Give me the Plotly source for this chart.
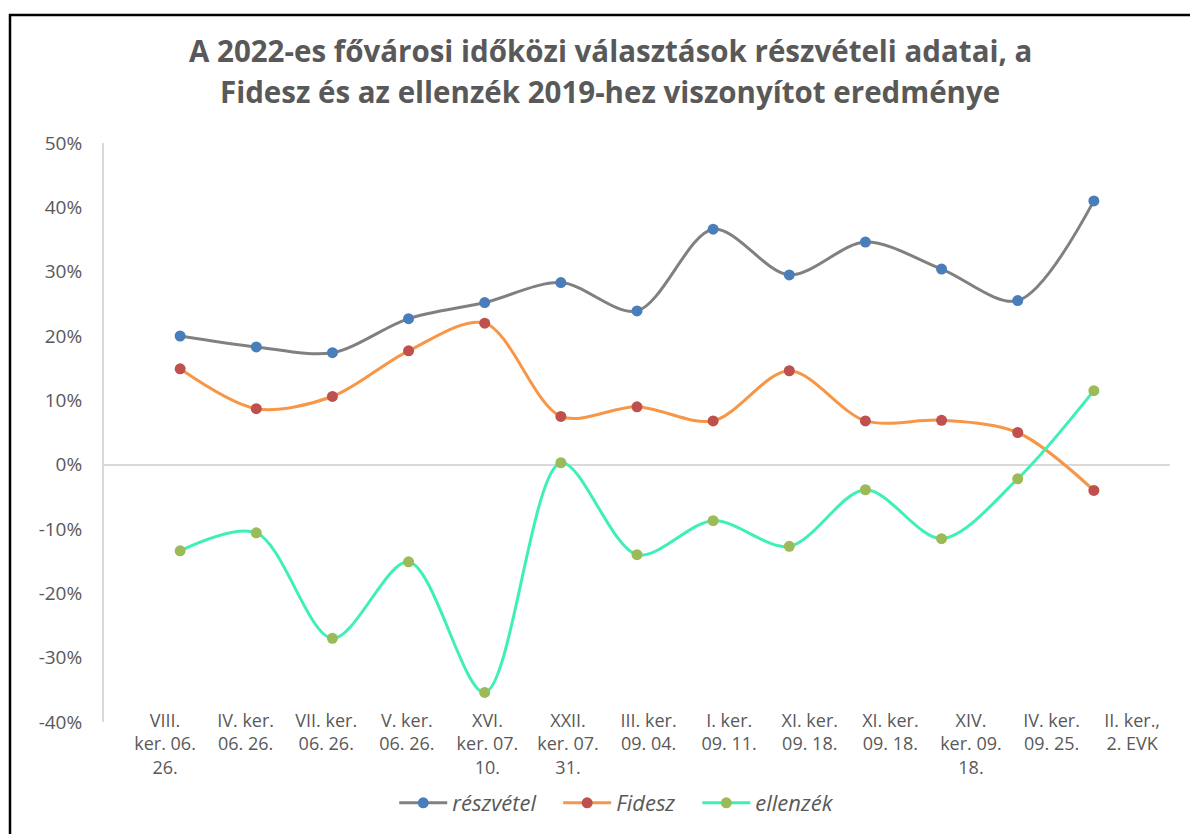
import plotly.graph_objects as go

categories = [
    "VIII.<br>ker. 06.<br>26.",
    "IV. ker.<br>06. 26.",
    "VII. ker.<br>06. 26.",
    "V. ker.<br>06. 26.",
    "XVI.<br>ker. 07.<br>10.",
    "XXII.<br>ker. 07.<br>31.",
    "III. ker.<br>09. 04.",
    "I. ker.<br>09. 11.",
    "XI. ker.<br>09. 18.",
    "XI. ker.<br>09. 18.",
    "XIV.<br>ker. 09.<br>18.",
    "IV. ker.<br>09. 25.",
    "II. ker.,<br>2. EVK",
]

reszvetel = [20.0, 18.3, 17.4, 22.7, 25.2, 28.3, 23.9, 36.6, 29.5, 34.6, 30.4, 25.5, 41.0]
fidesz = [14.9, 8.7, 10.6, 17.7, 22.0, 7.5, 9.0, 6.8, 14.6, 6.8, 6.9, 5.0, -4.0]
ellenzek = [-13.4, -10.6, -27.0, -15.1, -35.4, 0.3, -14.0, -8.7, -12.7, -3.9, -11.5, -2.2, 11.5]

y_ticks = [50, 40, 30, 20, 10, 0, -10, -20, -30, -40]
y_tick_text = ["50%", "40%", "30%", "20%", "10%", "0%", "-10%", "-20%", "-30%", "-40%"]

x_idx = list(range(len(categories)))
# Excel spreads the category labels slightly wider than the points
label_pos = [-0.198 + 1.0584 * i for i in x_idx]

FONT = "'Open Sans', 'Noto Sans', sans-serif"
TXT = "#595959"

series = [
    ("részvétel", reszvetel, "#808080", "#4A7EBB", "&nbsp;&nbsp;&nbsp;"),
    ("Fidesz", fidesz, "#F79646", "#C0504D", "&nbsp;&nbsp;&nbsp;"),
    ("ellenzék", ellenzek, "#3EF0B8", "#9BBB59", ""),
]

fig = go.Figure()
for name, vals, lc, mc, pad in series:
    fig.add_trace(go.Scatter(
        x=x_idx, y=vals, name="<i>" + name + "</i>" + pad,
        mode="lines+markers",
        line=dict(color=lc, width=3, shape="spline", smoothing=0.9),
        marker=dict(color=mc, size=11),
    ))

# page has an 8px body margin: plot area in page coords is x 104..1170, y 143..722
fig.update_layout(
    width=1198, height=834,
    paper_bgcolor="white", plot_bgcolor="white",
    margin=dict(l=96, r=36, t=135, b=120),
    font=dict(family=FONT, color=TXT, size=17),
    showlegend=True,
    legend=dict(orientation="h", x=0.481, xanchor="center", y=-0.14, yanchor="middle",
                font=dict(size=22, color=TXT), itemwidth=48, traceorder="normal"),
    xaxis=dict(range=[-1, 13], tickvals=label_pos, ticktext=categories,
               showgrid=False, zeroline=False, showline=False, ticks="",
               tickfont=dict(size=18, color=TXT), ticklabelstandoff=-14),
    yaxis=dict(range=[-40, 50], tickvals=y_ticks, ticktext=y_tick_text,
               showgrid=False, zeroline=True, zerolinecolor="#D9D9D9", zerolinewidth=2,
               showline=True, linecolor="#D9D9D9", linewidth=2, ticks="",
               tickfont=dict(size=19, color=TXT), ticklabelstandoff=16),
    annotations=[
        dict(text="<b>A 2022-es fővárosi időközi választások részvételi adatai, a</b>",
             xref="paper", yref="paper", x=(610 - 104) / 1066, y=(722 - 50) / 579,
             xanchor="center", yanchor="middle", showarrow=False,
             font=dict(size=29.5, color=TXT, family=FONT)),
        dict(text="<b>Fidesz és az ellenzék 2019-hez viszonyítot eredménye</b>",
             xref="paper", yref="paper", x=(610 - 104) / 1066, y=(722 - 92) / 579,
             xanchor="center", yanchor="middle", showarrow=False,
             font=dict(size=29.5, color=TXT, family=FONT)),
    ],
    shapes=[
        dict(type="rect", xref="paper", yref="paper",
             x0=(10 - 104) / 1066, x1=1.2, y0=-0.3, y1=(722 - 15) / 579,
             line=dict(color="black", width=2.5), fillcolor="rgba(0,0,0,0)", layer="below"),
    ],
)

fig.write_html("out.html")
